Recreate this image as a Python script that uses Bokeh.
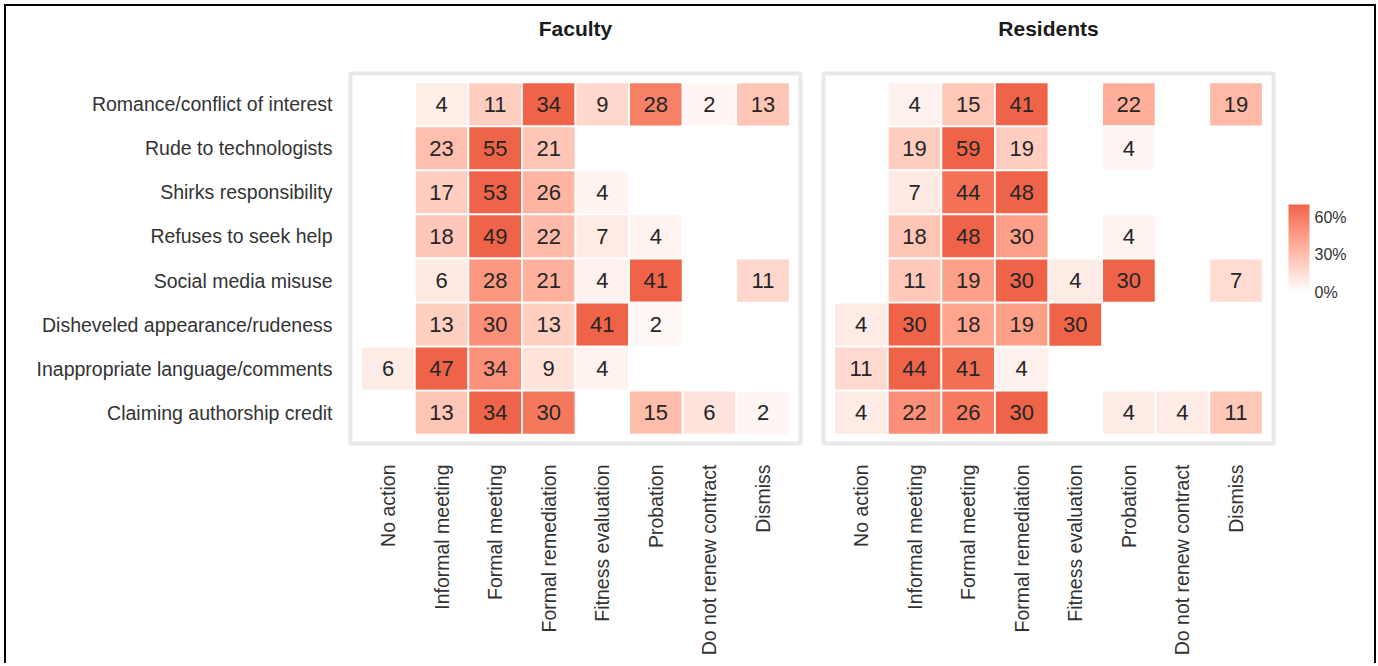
import math
from bokeh.plotting import figure
from bokeh.models import (ColumnDataSource, FactorRange, LinearColorMapper, ColorBar,
                          FixedTicker, PrintfTickFormatter, Title)
from bokeh.layouts import row
from bokeh.embed import file_html
from bokeh.resources import INLINE
from bokeh.core.properties import value

# ---------------- data ----------------
actions = ["No action", "Informal meeting", "Formal meeting", "Formal remediation",
           "Fitness evaluation", "Probation", "Do not renew contract", "Dismiss"]
behaviors = ["Romance/conflict of interest", "Rude to technologists", "Shirks responsibility",
             "Refuses to seek help", "Social media misuse", "Disheveled appearance/rudeness",
             "Inappropriate language/comments", "Claiming authorship credit"]

faculty_pct = [
    [None, 4, 11, 34, 9, 28, 2, 13],
    [None, 23, 55, 21, None, None, None, None],
    [None, 17, 53, 26, 4, None, None, None],
    [None, 18, 49, 22, 7, 4, None, None],
    [None, 6, 28, 21, 4, 41, None, 11],
    [None, 13, 30, 13, 41, 2, None, None],
    [6, 47, 34, 9, 4, None, None, None],
    [None, 13, 34, 30, None, 15, 6, 2],
]
residents_pct = [
    [None, 4, 15, 41, None, 22, None, 19],
    [None, 19, 59, 19, None, 4, None, None],
    [None, 7, 44, 48, None, None, None, None],
    [None, 18, 48, 30, None, 4, None, None],
    [None, 11, 19, 30, 4, 30, None, 7],
    [4, 30, 18, 19, 30, None, None, None],
    [11, 44, 41, 4, None, None, None, None],
    [4, 22, 26, 30, None, 4, 4, 11],
]
legend_ticks = [0, 30, 60]

# ---------------- palette (Lab interpolation white -> red) ----------------
def _lin(c):
    c = c / 255.0
    return c / 12.92 if c <= 0.04045 else ((c + 0.055) / 1.055) ** 2.4

def _delin(c):
    c = c * 12.92 if c <= 0.0031308 else 1.055 * c ** (1 / 2.4) - 0.055
    return max(0, min(255, round(c * 255)))

def _f(t):
    return t ** (1 / 3) if t > (6 / 29) ** 3 else t / (3 * (6 / 29) ** 2) + 4 / 29

def _finv(t):
    return t ** 3 if t > 6 / 29 else 3 * (6 / 29) ** 2 * (t - 4 / 29)

def to_lab(hexc):
    r, g, b = (_lin(int(hexc[i:i + 2], 16)) for i in (1, 3, 5))
    X = (0.4124 * r + 0.3576 * g + 0.1805 * b) / 0.95047
    Y = 0.2126 * r + 0.7152 * g + 0.0722 * b
    Z = (0.0193 * r + 0.1192 * g + 0.9505 * b) / 1.08883
    return 116 * _f(Y) - 16, 500 * (_f(X) - _f(Y)), 200 * (_f(Y) - _f(Z))

def from_lab(L, a, b):
    fy = (L + 16) / 116
    X = 0.95047 * _finv(fy + a / 500)
    Y = _finv(fy)
    Z = 1.08883 * _finv(fy - b / 200)
    r = 3.2406 * X - 1.5372 * Y - 0.4986 * Z
    g = -0.9689 * X + 1.8758 * Y + 0.0415 * Z
    bb = 0.0557 * X - 0.2040 * Y + 1.0570 * Z
    return "#%02x%02x%02x" % (_delin(max(r, 0)), _delin(max(g, 0)), _delin(max(bb, 0)))

lo, hi = to_lab("#ffffff"), to_lab("#ef6449")
palette = [from_lab(*[lo[k] + (hi[k] - lo[k]) * i / 255 for k in range(3)]) for i in range(256)]
FILL_TOP = 70
mapper = LinearColorMapper(palette=palette, low=0, high=FILL_TOP)

FONT = "Liberation Sans"


def make_panel(title, rows, show_y, left, right):
    xs, ys, labels, fills = [], [], [], []
    for b, vals in zip(behaviors, rows):
        m = max(v for v in vals if v is not None)
        for a, v in zip(actions, vals):
            if v is None:
                continue
            xs.append(a)
            ys.append(b)
            labels.append(str(v))
            fills.append(v / m * FILL_TOP)
    src = ColumnDataSource(dict(x=xs, y=ys, label=labels, fill=fills))

    p = figure(x_range=FactorRange(*actions, range_padding=0.2, range_padding_units="absolute"),
               y_range=FactorRange(*behaviors[::-1], range_padding=0.2, range_padding_units="absolute"),
               frame_width=450, frame_height=370,
               min_border_left=left, min_border_right=right,
               min_border_top=67, min_border_bottom=220,
               output_backend="svg", toolbar_location=None)
    p.rect(x="x", y="y", width=1, height=1, source=src,
           fill_color={"field": "fill", "transform": mapper},
           line_color="white", line_width=1.8)
    p.text(x="x", y="y", text="label", source=src, text_align="center",
           text_baseline="middle", text_font=value(FONT), text_font_size="22px",
           text_color="#262626")

    # blank spacer title next to the panel, then the real title above it
    p.add_layout(Title(text=" ", text_font=FONT, text_font_size="21px", standoff=9), "above")
    p.add_layout(Title(text=title, align="center", text_font=FONT, text_font_size="21px",
                       text_font_style="bold", text_color="#1a1a1a", standoff=0), "above")

    p.grid.grid_line_color = None
    p.outline_line_color = "#e8e8e8"
    p.outline_line_width = 4
    p.background_fill_color = "white"
    p.border_fill_color = "white"

    for ax in (p.xaxis, p.yaxis):
        ax.axis_line_color = None
        ax.major_tick_line_color = None
        ax.minor_tick_line_color = None
        ax.major_tick_out = 0
        ax.major_tick_in = 0
        ax.major_label_text_font = FONT
        ax.major_label_text_font_size = "19.5px"
        ax.major_label_text_color = "#333333"
    p.xaxis.major_label_orientation = math.pi / 2
    p.xaxis.major_label_standoff = 21
    p.yaxis.major_label_standoff = 18
    if not show_y:
        p.yaxis.visible = False
    return p


p1 = make_panel("Faculty", faculty_pct, True, 344, 11)
p2 = make_panel("Residents", residents_pct, False, 12, 101)

cb = ColorBar(color_mapper=mapper, ticker=FixedTicker(ticks=legend_ticks),
              formatter=PrintfTickFormatter(format="%d%%"),
              width=21, height=88, padding=0, location=(15, 151),
              major_tick_line_color=None, minor_tick_line_color=None,
              bar_line_color=None, border_line_color=None, background_fill_color=None,
              major_label_text_font=FONT, major_label_text_font_size="16px",
              major_label_text_color="#333333", label_standoff=5)
p2.add_layout(cb, "right")

layout = row(p1, p2, styles={"border-left": "2px solid black", "border-top": "2px solid black",
                             "border-right": "2px solid black",
                             "margin-left": "4px", "margin-top": "4px"})

with open("out.html", "w") as fh:
    fh.write(file_html(layout, INLINE))
